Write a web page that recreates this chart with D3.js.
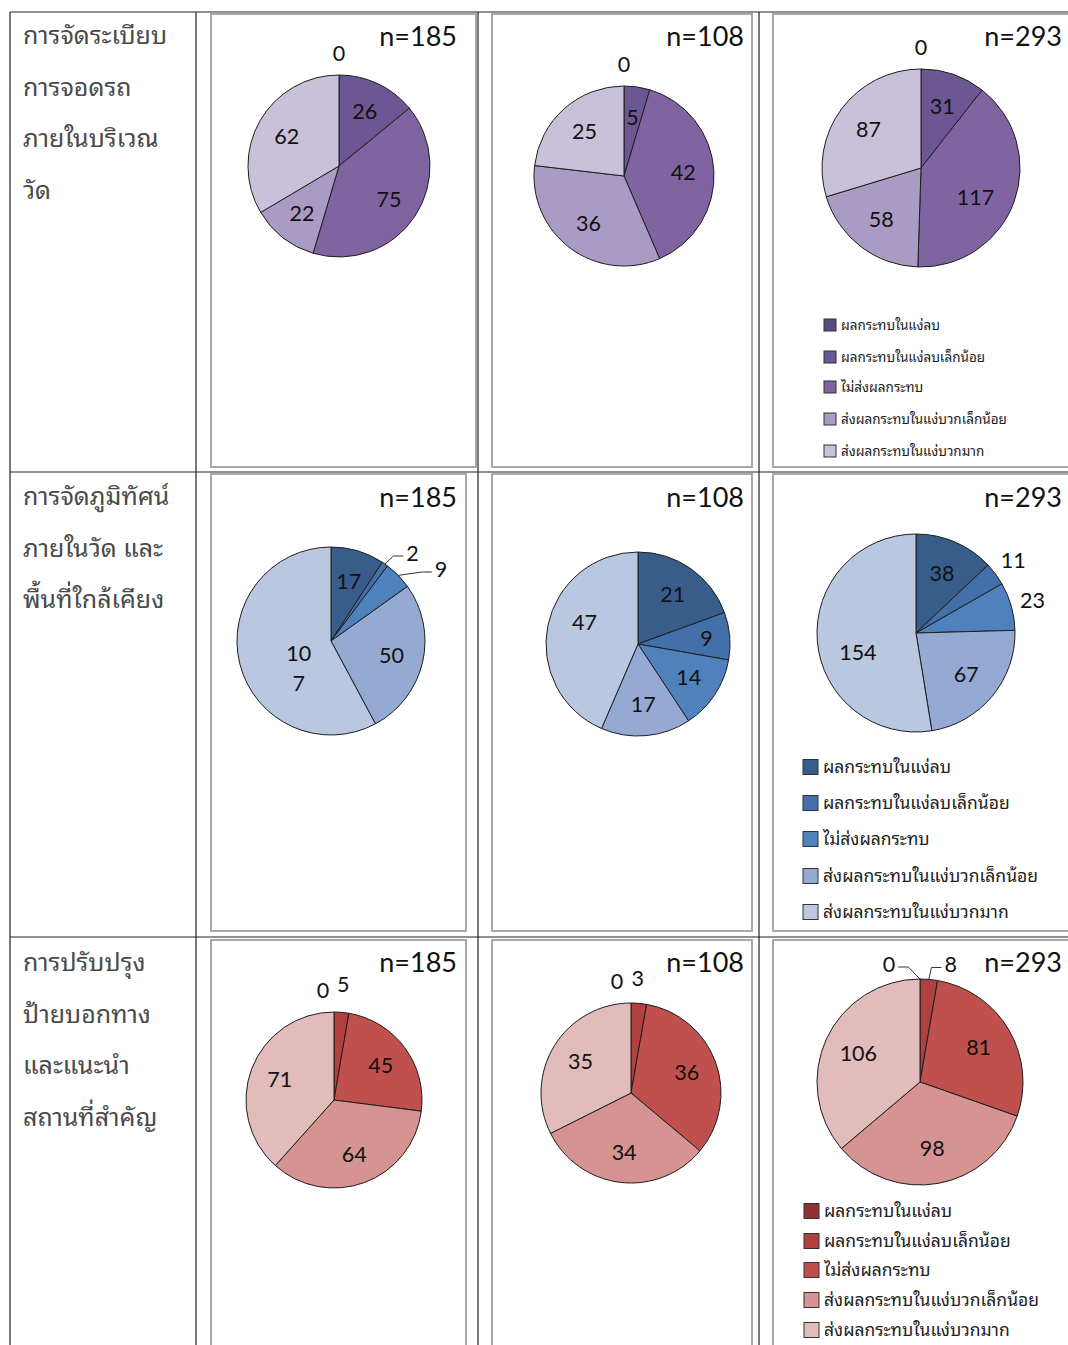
<!DOCTYPE html>
<html>
<head>
<meta charset="utf-8">
<script src="https://cdn.jsdelivr.net/npm/d3@7"></script>
<style>
body { margin: 0; background: #fff; }
.num { font-family: Lato, "Open Sans", sans-serif; fill: #111; }
.thai { font-family: "Noto Sans Thai Looped", "Noto Serif Thai", Garuda, Loma, "Tlwg Typo", Norasi, Kinnari, Tahoma, "Noto Sans Thai", sans-serif; }
</style>
</head>
<body>
<svg width="1068" height="1345"></svg>
<script>
// impact categories (legend order = slice order, clockwise from 12 o'clock)
var categories = ["ผลกระทบในแง่ลบ", "ผลกระทบในแง่ลบเล็กน้อย", "ไม่ส่งผลกระทบ", "ส่งผลกระทบในแง่บวกเล็กน้อย", "ส่งผลกระทบในแง่บวกมาก"];
var topics = [
    ["การจัดระเบียบ", "การจอดรถ", "ภายในบริเวณ", "วัด"],
    ["การจัดภูมิทัศน์", "ภายในวัด และ", "พื้นที่ใกล้เคียง"],
    ["การปรับปรุง", "ป้ายบอกทาง", "และแนะนำ", "สถานที่สำคัญ"]];
var groupN = [185, 108, 293];

var parkingValues = [[0, 26, 75, 22, 62], [0, 5, 42, 36, 25], [0, 31, 117, 58, 87]];
var landscapeValues = [[17, 2, 9, 50, 107], [21, 9, 14, 17, 47], [38, 11, 23, 67, 154]];
var signValues = [[0, 5, 45, 64, 71], [0, 3, 36, 34, 35], [0, 8, 81, 98, 106]];

var purple = ["#5c4a7e", "#6c5693", "#8064a2", "#a99bc3", "#c9c1da"];
var blue = ["#385d8a", "#4470a9", "#4f81bd", "#95aad3", "#b9c7e1"];
var red = ["#8e3331", "#b1413e", "#c0504d", "#d59492", "#e2bbbb"];

var rows = [
    { values: parkingValues, colors: purple },
    { values: landscapeValues, colors: blue },
    { values: signValues, colors: red }];

// layout of the table and the chart boxes
var colLines = [10, 196, 478, 759], rowLines = [12, 472, 937];
var frames = [
    [[211, 14, 476, 467], [492, 14, 752, 467], [773, 14, 1080, 467]],
    [[211, 474, 466, 931], [492, 474, 752, 931], [773, 474, 1080, 931]],
    [[211, 940, 466, 1360], [492, 940, 752, 1360], [773, 940, 1080, 1360]]];
var pies = [
    [[339, 166, 91], [624, 176, 90], [921, 168, 99]],
    [[331, 641, 94], [638, 644, 92], [916, 633, 99]],
    [[334, 1100, 88], [631, 1093, 90], [920, 1082, 103]]];
var nRight = [457, 744, 1062], nY = [46, 507, 972];
var labelStart = [44, 505, 971];
var legends = [
    { x: 824, y: [325, 357, 387, 419, 451], box: 12, size: 13.5 },
    { x: 803, y: [767, 803, 839, 876, 912], box: 15, size: 17.5 },
    { x: 804, y: [1211, 1241, 1270, 1300, 1330], box: 15, size: 17.5 }];

// labels Excel moved outside the pie or nudged
var placement = [
    { row: 0, col: 0, cat: 0, out: true }, { row: 0, col: 1, cat: 0, out: true }, { row: 0, col: 2, cat: 0, out: true },
    { row: 0, col: 2, cat: 2, dx: -7, dy: 7 },
    { row: 1, col: 0, cat: 1, out: true, dx: 15, dy: 7, leader: true },
    { row: 1, col: 0, cat: 2, out: true, dx: 27, dy: 9, leader: true },
    { row: 1, col: 0, cat: 4, dx: 28, dy: 12, wrap: 2 },
    { row: 1, col: 1, cat: 1, dx: 8 },
    { row: 1, col: 1, cat: 4, dx: 6, dy: -9 },
    { row: 1, col: 2, cat: 1, out: true }, { row: 1, col: 2, cat: 2, out: true },
    { row: 1, col: 2, cat: 4, dx: 7, dy: 14 },
    { row: 2, col: 0, cat: 0, out: true, dx: -11 }, { row: 2, col: 0, cat: 1, out: true, dy: -6 },
    { row: 2, col: 1, cat: 0, out: true, dx: -14 }, { row: 2, col: 1, cat: 1, out: true, dy: -3, dx: -3 },
    { row: 2, col: 2, cat: 0, out: true, dx: -31, dy: 7, leader: true },
    { row: 2, col: 2, cat: 1, out: true, dx: 20, dy: 7, leader: true }];

var svg = d3.select("svg");

// table grid
svg.selectAll(".vline").data(colLines).enter().append("line")
    .attr("x1", function (d) { return d; }).attr("x2", function (d) { return d; })
    .attr("y1", rowLines[0]).attr("y2", 1345)
    .attr("stroke", "#222").attr("stroke-width", 1.2);
svg.selectAll(".hline").data(rowLines).enter().append("line")
    .attr("x1", colLines[0]).attr("x2", 1068)
    .attr("y1", function (d) { return d; }).attr("y2", function (d) { return d; })
    .attr("stroke", "#222").attr("stroke-width", 1.2);

var pie = d3.pie().sort(null).value(function (d) { return d; });

rows.forEach(function (row, ri) {
    // topic text in first column
    svg.append("g").selectAll("text")
        .data(topics[ri])
        .enter().append("text")
        .attr("class", "thai")
        .attr("x", 23)
        .attr("y", function (d, i) { return labelStart[ri] + i * 51.5; })
        .attr("font-size", 25)
        .attr("fill", "#4a4a4a")
        .text(function (d) { return d; });

    row.values.forEach(function (vals, ci) {
        var f = frames[ri][ci];
        svg.append("rect")
            .attr("x", f[0]).attr("y", f[1])
            .attr("width", f[2] - f[0]).attr("height", f[3] - f[1])
            .attr("fill", "none").attr("stroke", "#a8a8a8").attr("stroke-width", 2);

        var p = pies[ri][ci], r = p[2];
        var g = svg.append("g").attr("transform", "translate(" + p[0] + "," + p[1] + ")");
        var arc = d3.arc().innerRadius(0).outerRadius(r);
        var inner = d3.arc().innerRadius(r * 0.66).outerRadius(r * 0.66);
        var outer = d3.arc().innerRadius(r + 22).outerRadius(r + 22);
        var edge = d3.arc().innerRadius(r).outerRadius(r);
        var color = d3.scaleOrdinal().domain(d3.range(5)).range(row.colors);
        var arcs = pie(vals);

        g.selectAll("path")
            .data(arcs)
            .enter().append("path")
            .attr("d", arc)
            .attr("fill", function (d, i) { return color(i); })
            .attr("stroke", "#1e1e1e")
            .attr("stroke-width", 1);

        var fs = 21.5;
        arcs.forEach(function (d, i) {
            var pl = placement.filter(function (q) { return q.row == ri && q.col == ci && q.cat == i; })[0] || {};
            var pos = (pl.out ? outer : inner).centroid(d);
            var lx = pos[0] + (pl.dx || 0), ly = pos[1] + (pl.dy || 0);
            var txt = String(d.data);

            if (pl.leader) {
                var a = edge.centroid(d);
                var side = lx > a[0] ? 1 : -1;
                var w = txt.length * fs * 0.58;
                var ex = lx - side * (w / 2 + 3);
                g.append("polyline")
                    .attr("points", [a, [ex - side * 10, ly + 3], [ex, ly + 3]].join(" "))
                    .attr("fill", "none").attr("stroke", "#333").attr("stroke-width", 1);
            }

            var t = g.append("text")
                .attr("class", "num")
                .attr("text-anchor", "middle")
                .attr("font-size", fs);
            if (pl.wrap) {
                var parts = [txt.slice(0, pl.wrap), txt.slice(pl.wrap)];
                t.selectAll("tspan").data(parts).enter().append("tspan")
                    .attr("x", lx)
                    .attr("y", function (s, k) { return ly - 15 + k * 30; })
                    .attr("dy", "0.35em")
                    .text(function (s) { return s; });
            } else {
                t.attr("x", lx).attr("y", ly).attr("dy", "0.35em").text(txt);
            }
        });

        svg.append("text")
            .attr("class", "num")
            .attr("x", nRight[ci])
            .attr("y", nY[ri])
            .attr("text-anchor", "end")
            .attr("font-size", 27)
            .text("n=" + groupN[ci]);
    });

    // legend in the last column
    var lg = legends[ri];
    var leg = svg.append("g").selectAll("g")
        .data(categories)
        .enter().append("g")
        .attr("transform", function (d, i) { return "translate(" + lg.x + "," + lg.y[i] + ")"; });
    leg.append("rect")
        .attr("x", 0).attr("y", -lg.box / 2)
        .attr("width", lg.box).attr("height", lg.box)
        .attr("fill", function (d, i) { return row.colors[i]; })
        .attr("stroke", "#333").attr("stroke-width", 1);
    leg.append("text")
        .attr("class", "thai")
        .attr("x", lg.box + 5)
        .attr("dy", "0.35em")
        .attr("font-size", lg.size)
        .attr("fill", "#222")
        .text(function (d) { return d; });
});
</script>
</body>
</html>
